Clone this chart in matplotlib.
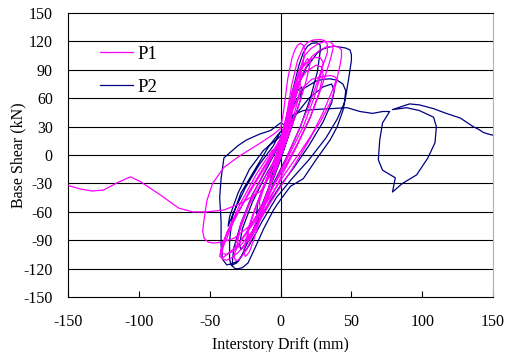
import matplotlib
matplotlib.use('Agg')
import matplotlib.pyplot as plt

# P1 trace (drift mm, shear kN)
p1_x = [0, 3, 6, 8, 7, 3, -2, -6, -8, -7, -3, 1,
        4, 8, 12, 14, 13, 9, 4, -3, -10, -14, -15, -11, -5, 0,
        5, 10, 15, 19, 21, 18, 12, 5, -4, -12, -19, -23, -23, -17, -9, -2,
        4, 8, 12, 16, 19, 23, 28, 31, 33, 33, 30, 27, 20, 11, 2, -8, -17, -24, -28, -30, -32, -33, -31, -28, -19, -9, 0,
        6, 11, 17, 21, 26, 31, 35, 37, 37, 35, 29, 21, 10, 0, -10, -20, -30, -35, -38, -41, -42, -40, -33, -22, -10, 0,
        8, 15, 22, 27, 32, 38, 41, 43, 43, 42, 40, 37, 30, 20, 8, -5, -17, -28, -34, -38, -41, -42, -40, -32, -20, -8, 2,
        8, 15, 22, 30, 35, 38, 40, 39, 36, 28, 16, 3, -10, -22, -33, -42, -47, -51, -54, -55, -54, -53, -52, -48, -40, -28, -15, -5, 0,
        2, 5, 8, 10, 12, 14, 16, 17, 16, 12, 6, -1, -7, -13, -19, -22, -24, -25, -26, -22, -15, -7, 0,
        4, 9, 14, 20, 24, 28, 30, 29, 24, 16, 6, -6, -18, -30, -38, -41, -43, -42, -38, -28, -17, -6, 0,
        3, 7, 12, 18, 25, 29, 30, 27, 21, 12, 2, -10, -20, -27, -31, -32, -29, -22, -12, -3, 2,
        -5, -14, -28, -40, -52, -62, -72, -85, -99, -106, -115, -125, -133, -141, -148, -150]
p1_y = [0, 20, 38, 45, 35, 15, -8, -25, -32, -22, -5, 10,
        30, 55, 72, 76, 62, 40, 15, -15, -42, -58, -50, -30, -8, 12,
        40, 70, 92, 102, 98, 78, 48, 18, -18, -50, -78, -90, -78, -52, -22, 5,
        40, 75, 100, 114, 119, 121.5, 122, 121, 117, 108, 95, 82, 52, 20, -10, -42, -75, -100, -108, -111, -111, -106, -98, -72, -40, -10, 15,
        45, 80, 105, 112, 117, 120, 119.5, 117, 112, 100, 72, 40, 5, -24, -55, -85, -103, -109, -111, -110, -105, -95, -70, -38, -8, 18,
        50, 85, 104, 110, 114, 115, 114, 111, 104, 95, 82, 70, 45, 15, -15, -45, -75, -95, -102, -105, -104, -100, -90, -65, -35, -5, 20,
        45, 70, 80, 83, 84, 83, 80, 75, 58, 35, 8, -20, -50, -75, -88, -92, -93, -92, -88, -80, -68, -58, -48, -30, -13, 0, 12, 22, 28,
        45, 80, 102, 111, 116, 118, 116, 112, 98, 70, 35, 0, -30, -60, -90, -102, -106, -107, -100, -75, -45, -15, 10,
        40, 70, 90, 100, 103, 103, 98, 88, 62, 30, 0, -35, -70, -95, -105, -109, -107, -100, -82, -50, -20, 5, 10,
        30, 55, 75, 88, 95, 93, 85, 65, 40, 12, -15, -45, -72, -88, -97, -95, -80, -52, -25, -5, 5,
        -15, -38, -51, -58, -60, -60, -56, -42, -28, -23, -29, -37, -38, -36, -33, -32]

# P2 trace
p2_x = [0, 4, 8, 9, 5, 0, -5, -8, -7, -3, 0,
        6, 12, 15, 14, 9, 2, -6, -13, -17, -16, -10, -3, 1,
        3, 8, 13, 16, 19, 22, 26, 28, 28, 26, 21, 14, 5, -5, -14, -22, -28, -31, -34, -34, -33, -28, -20, -10, -2,
        3, 10, 18, 26, 30, 34, 38, 42, 46, 49, 50, 50, 48, 46, 44, 40, 35, 25, 16, 7, 0, -5, -12, -18, -23, -27, -30, -32, -35, -36, -36, -34, -28, -18, -8, 0,
        -5, -15, -25, -33, -37, -36, -30, -22, -12, 0,
        8, 16, 25, 30, 35, 40, 44, 46, 45, 40, 32, 20, 8, -3, -13, -22, -30, -35, -38, -41, -42, -42, -43, -42, -40, -30, -24, -15, -7, 0,
        5, 12, 20, 30, 36, 38, 36, 30, 20, 10, 0, -10, -18, -24, -28, -29, -27, -20, -10, 0,
        8, 16, 23, 35, 47, 56, 65, 72, 77, 72, 70, 69, 72, 81, 79, 86, 96, 104, 109, 110, 108, 98, 89, 79,
        91, 98, 103, 108, 117, 127, 132, 136, 140, 143, 147, 150]
p2_y = [0, 25, 42, 38, 18, -5, -25, -35, -25, -8, 5,
        40, 68, 72, 58, 35, 5, -25, -52, -62, -50, -28, -5, 10,
        30, 65, 95, 108, 115, 118, 118.5, 116, 110, 88, 60, 30, 0, -30, -60, -88, -108, -114, -116, -112, -98, -72, -42, -15, 8,
        30, 65, 92, 108, 112, 114, 115, 114, 113, 111, 106, 100, 80, 62, 47, 30, 16, -5, -25, -33, -47, -58, -78, -98, -114, -119, -120, -120, -116, -110, -90, -65, -40, -15, 10, 25,
        10, -10, -35, -60, -75, -65, -40, -15, 5, 20,
        50, 70, 78, 80, 80.5, 79, 75, 68, 55, 38, 18, -5, -25, -45, -70, -95, -112, -115, -116, -110, -95, -70, -45, -25, -3, 10, 16, 22, 26, 34,
        30, 45, 60, 72, 75, 68, 55, 35, 10, -12, -32, -55, -75, -92, -100, -95, -78, -50, -20, 5,
        42, 47, 48, 49, 50, 46, 44, 46, 46, 34, 16, -5, -16, -24, -39, -30, -21, -3, 13, 30, 40, 47, 50, 48,
        54, 53, 51, 49, 44, 39, 34, 30, 27, 24, 22, 21]

yticks = [-150, -120, -90, -60, -30, 0, 30, 60, 90, 120, 150]
xticks = [-150, -100, -50, 0, 50, 100, 150]

plt.rcParams['font.family'] = 'Liberation Serif'
plt.rcParams['axes.unicode_minus'] = False

fig = plt.figure(figsize=(5.12, 3.52), dpi=100)
ax = fig.add_axes([0.133, 0.156, 0.830, 0.807])

for y in yticks[1:-1]:
    ax.axhline(y, color='black', linewidth=0.8, zorder=1)
ax.axvline(0, color='black', linewidth=0.8, zorder=1)

ax.plot(p1_x, p1_y, color='#FF00FF', linewidth=0.9, label='P1', zorder=3)
ax.plot(p2_x, p2_y, color='#000080', linewidth=0.9, label='P2', zorder=2)

ax.set_xlim(-150, 150)
ax.set_ylim(-150, 150)
ax.set_xticks(xticks)
ax.set_yticks(yticks)
ax.tick_params(direction='in', length=4, labelsize=11.5)
ax.tick_params(axis='x', pad=12)
ax.tick_params(axis='y', length=0, pad=11)
ax.spines['right'].set_color('#b0b0b0')
ax.set_xlabel('Interstory Drift (mm)', fontsize=11.5, labelpad=5)
ax.set_ylabel('Base Shear (kN)', fontsize=11.5, labelpad=-2)

ax.legend(loc='upper left', bbox_to_anchor=(0.075, 0.885), frameon=False, fontsize=13.5,
          handlelength=1.75, labelspacing=0.85, handletextpad=0.25, borderpad=0, borderaxespad=0)

fig.savefig('out.png', dpi=100)
plt.close()
